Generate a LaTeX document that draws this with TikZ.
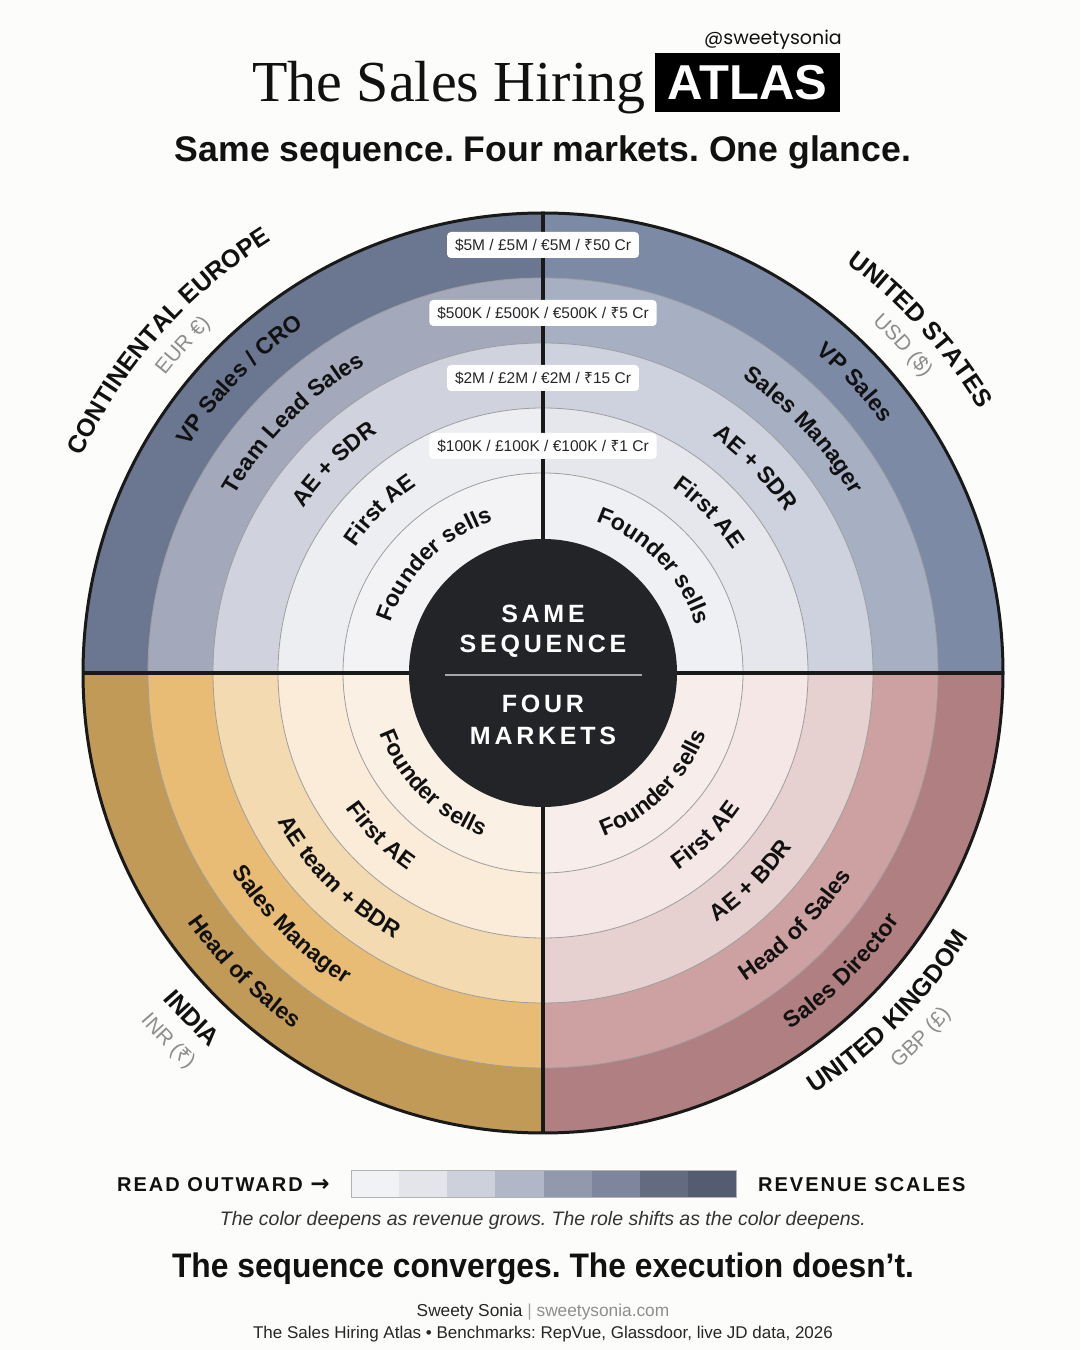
\documentclass[tikz,border=0pt]{standalone}
\usepackage{fontspec}
\setmainfont{Liberation Sans}
\newfontfamily\seriffont{Liberation Serif}
\newfontfamily\spacedA[LetterSpace=10]{Liberation Sans}
\newfontfamily\spacedB[LetterSpace=15]{Liberation Sans}
\newfontfamily\notofont{Noto Sans}
\newfontfamily\popfont{Poppins}
\newfontfamily\djvfont{DejaVu Sans}
\usetikzlibrary{decorations.text,calc}
\frenchspacing

\definecolor{bgc}{HTML}{FCFCFB}
\definecolor{inkc}{HTML}{111111}
\definecolor{hubc}{HTML}{232428}
\definecolor{curgray}{HTML}{8E8E8E}
\definecolor{ce5}{HTML}{6B7690}
\definecolor{ce4}{HTML}{A3A9BA}
\definecolor{ce3}{HTML}{D0D3DD}
\definecolor{ce2}{HTML}{EDEEF2}
\definecolor{ce1}{HTML}{F3F3F6}
\definecolor{us5}{HTML}{7D8AA5}
\definecolor{us4}{HTML}{A7B0C3}
\definecolor{us3}{HTML}{CDD2DE}
\definecolor{us2}{HTML}{E5E7ED}
\definecolor{us1}{HTML}{EFF0F4}
\definecolor{ind5}{HTML}{C29A58}
\definecolor{ind4}{HTML}{E8BC74}
\definecolor{ind3}{HTML}{F4DAB0}
\definecolor{ind2}{HTML}{FBEBD9}
\definecolor{ind1}{HTML}{FAF1E4}
\definecolor{uk5}{HTML}{B07F81}
\definecolor{uk4}{HTML}{CDA1A1}
\definecolor{uk3}{HTML}{E6D0D0}
\definecolor{uk2}{HTML}{F4E7E6}
\definecolor{uk1}{HTML}{F7EEEC}
\definecolor{lga}{HTML}{F1F2F6}
\definecolor{lgb}{HTML}{E3E5EB}
\definecolor{lgc}{HTML}{CDD1DC}
\definecolor{lgd}{HTML}{B1B7C7}
\definecolor{lge}{HTML}{9399AC}
\definecolor{lgf}{HTML}{7D869C}
\definecolor{lgg}{HTML}{636B81}
\definecolor{lgh}{HTML}{545C71}

\newcommand\rupee{{\notofont ₹}}
\newcommand\rolefont{\bfseries\fontsize{23}{25}\selectfont}
\newcommand\landfont{\bfseries\fontsize{25}{27}\selectfont}
\newcommand\curfont{\fontsize{21}{22}\selectfont}

% #1 colour, #2 centre angle, #3 baseline radius, #4 format, #5 text
\newcommand\arcTop[5][inkc]{\path[shift={(C)}, decorate,
  decoration={text along path, text align=center, text color=#1, text={|#4|#5}}]
  ({#2+60}:#3pt) arc[start angle={#2+60}, end angle={#2-60}, radius=#3pt];}
\newcommand\arcBot[5][inkc]{\path[shift={(C)}, decorate,
  decoration={text along path, text align=center, text color=#1, text={|#4|#5}}]
  ({#2-60}:#3pt) arc[start angle={#2-60}, end angle={#2+60}, radius=#3pt];}

\begin{document}
\begin{tikzpicture}[x=1pt,y=1pt,
  ringline/.style={draw=black!38, line width=0.8pt},
  crossline/.style={draw=black!90, line width=4pt},
  rimline/.style={draw=black!90, line width=3pt},
  revbox/.style={fill=white, rounded corners=4pt, minimum height=26pt, inner xsep=8pt, inner ysep=0pt,
    font=\fontsize{15.5}{16}\selectfont, text=black!85},
  hubtext/.style={text=white, font=\spacedB\bfseries\fontsize{25}{26}\selectfont, inner sep=0},
  legtext/.style={text=inkc, font=\spacedA\bfseries\fontsize{20}{22}\selectfont, inner sep=0},
  plain/.style={text=inkc, inner sep=0}]
\fill[bgc] (0,0) rectangle (1080,1350);
\useasboundingbox (0,0) rectangle (1080,1350);
\coordinate (C) at (543,677);

% quadrant wedges
\foreach \q/\a in {ce/90, us/0, ind/180, uk/270} {
  \foreach \i/\r in {5/460,4/395,3/330,2/265,1/200} {
    \fill[fill=\q\i] (C) -- ([shift={(C)}]\a:\r pt) arc[start angle=\a, end angle=\a+90, radius=\r pt] -- cycle;
  }
}
\foreach \r in {200,265,330,395} \draw[ringline] (C) circle[radius=\r pt];

\coordinate (W) at ([shift={(C)}]180:460pt);
\coordinate (E) at ([shift={(C)}]0:460pt);
\coordinate (N) at ([shift={(C)}]90:460pt);
\coordinate (S) at ([shift={(C)}]270:460pt);
\draw[crossline] (W) -- (E);
\draw[crossline] (N) -- (S);
\draw[rimline] (C) circle[radius=460pt];

% hub
\node[circle, fill=hubc, minimum size=268pt, inner sep=0] (hub) at (C) {};
\coordinate (hl) at (445,675);
\coordinate (hr) at (642,675);
\draw[black!35, line width=1.2pt] (hl) -- (hr);
\node[hubtext] (same) at (543,736) {SAME};
\node[hubtext] (seq) at (543,704) {SEQUENCE};
\node[hubtext] (four) at (543,646) {FOUR};
\node[hubtext] (mkts) at (543,614) {MARKETS};

% revenue tags
\node[revbox] (rev5) at (543,1105) {\$5M / £5M / €5M / \rupee50 Cr};
\node[revbox] (rev4) at (543,1037) {\$500K / £500K / €500K / \rupee5 Cr};
\node[revbox] (rev3) at (543,972) {\$2M / £2M / €2M / \rupee15 Cr};
\node[revbox] (rev2) at (543,904) {\$100K / £100K / €100K / \rupee1 Cr};

% Continental Europe roles
\arcTop{135}{160}{\rolefont}{Founder sells}
\arcTop{135}{226}{\rolefont}{First AE}
\arcTop{135}{291}{\rolefont}{AE + SDR}
\arcTop{135}{356}{\rolefont}{Team Lead Sales}
\arcTop{136}{421}{\rolefont}{VP Sales / CRO}
% United States roles
\arcTop{44}{160}{\rolefont}{Founder sells}
\arcTop{44}{226}{\rolefont}{First AE}
\arcTop{44}{291}{\rolefont}{AE + SDR}
\arcTop{43}{356}{\rolefont}{Sales Manager}
\arcTop{43}{421}{\rolefont}{VP Sales}
% India roles
\arcBot{225}{174}{\rolefont}{Founder sells}
\arcBot{225}{239}{\rolefont}{First AE}
\arcBot{225}{304}{\rolefont}{AE team + BDR}
\arcBot{225}{369}{\rolefont}{Sales Manager}
\arcBot{225}{434}{\rolefont}{Head of Sales}
% United Kingdom roles
\arcBot{315}{174}{\rolefont}{Founder sells}
\arcBot{315}{239}{\rolefont}{First AE}
\arcBot{315}{304}{\rolefont}{AE + BDR}
\arcBot{315}{369}{\rolefont}{Head of Sales}
\arcBot{315}{434}{\rolefont}{Sales Director}

% market names
\arcTop{138.5}{510}{\landfont}{CONTINENTAL EUROPE}
\arcTop[curgray]{137.7}{481}{\curfont}{EUR €)}
\arcTop{42.3}{510}{\landfont}{UNITED STATES}
\arcTop[curgray]{42.3}{481}{\curfont}{USD ({\$})}
\arcBot{224.5}{501}{\landfont}{INDIA}
\arcBot[curgray]{224.5}{532}{\curfont}{INR ({\notofont ₹})}
\arcBot{315.5}{501}{\landfont}{UNITED KINGDOM}
\arcBot[curgray]{316}{532}{\curfont}{GBP (£)}

% header
\node[plain, anchor=base east] (handle) at (842,1305) {\popfont\fontsize{19}{20}\selectfont @sweetysonia};
\node[plain, anchor=base west] (title) at (252,1248) {\seriffont\fontsize{58}{62}\selectfont The Sales Hiring};
\node[fill=black, text=white, minimum width=185pt, minimum height=59pt, inner sep=0,
  font=\bfseries\fontsize{49}{50}\selectfont] (atlas) at (747.5,1267.5) {ATLAS};
\node[plain, anchor=base] (sub) at (543,1188) {\bfseries\fontsize{35.6}{40}\selectfont Same sequence. Four markets. One glance.};

% legend
\node[legtext, anchor=base west] (readout) at (117,158) {READ OUTWARD {\djvfont\fontsize{23}{24}\selectfont →}};
\foreach \c [count=\k from 0] in {lga,lgb,lgc,lgd,lge,lgf,lgg,lgh}
  \fill[fill=\c] (351+\k*48.125,153) rectangle ++(48.125,27);
\coordinate (barA) at (351,153);
\coordinate (barB) at (736,180);
\draw[black!30, line width=0.8pt] (barA) rectangle (barB);
\node[legtext, anchor=base west] (revscale) at (758,158) {REVENUE SCALES};

\node[plain, anchor=base, text=black!80] (note) at (543,124) {\itshape\fontsize{19.5}{21}\selectfont The color deepens as revenue grows. The role shifts as the color deepens.};
\node[plain, anchor=base] (punch) at (543,72) {\scalebox{0.935}[1]{\bfseries\fontsize{34}{38}\selectfont The sequence converges. The execution doesn’t.}};
\node[plain, anchor=base, text=black!85] (credit) at (543,34) {\fontsize{17.3}{19}\selectfont Sweety Sonia {\color{black!35}|} {\color{curgray}sweetysonia.com}};
\node[plain, anchor=base, text=black!85] (source) at (543,11) {\fontsize{17}{18}\selectfont The Sales Hiring Atlas • Benchmarks: RepVue, Glassdoor, live JD data, 2026};
\end{tikzpicture}
\end{document}
